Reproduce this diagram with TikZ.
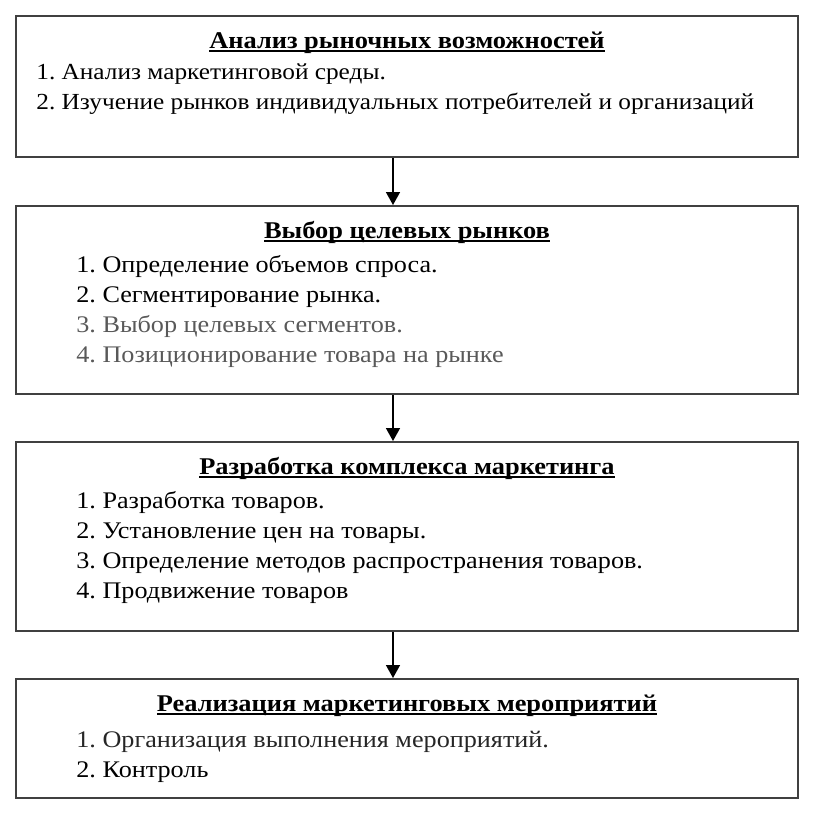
\documentclass[tikz,border=0pt]{standalone}
\usepackage{fontspec}
\setmainfont{Liberation Serif}[FakeStretch=1.1]
\usetikzlibrary{arrows.meta, positioning}
\frenchspacing
\newcommand{\headline}[1]{\setbox0\hbox{#1}\rlap{\rule[-1.9pt]{\wd0}{0.9pt}}\box0}
\tikzset{
    stagebox/.style={rectangle, draw=black!75, line width=1pt, minimum width=391pt, inner sep=0pt},
    headtext/.style={font=\fontsize{12}{15}\selectfont\bfseries, inner sep=0pt, anchor=base},
    listtext/.style={font=\fontsize{#1}{15}\selectfont, align=left, inner sep=0pt, anchor=north west},
    listtext/.default=11.9,
    arrow/.style={-{Triangle[length=6.5pt, width=7pt]}, line width=0.8pt, black},
}

\begin{document}
\begin{tikzpicture}
\useasboundingbox (0,0) rectangle (407pt,-407pt);

% Stage boxes
\node[stagebox, minimum height=70.5pt, anchor=north west] (opportunity) at (7.5pt,-7.5pt) {};
\node[stagebox, minimum height=94pt, below=23.5pt of opportunity] (targets) {};
\node[stagebox, minimum height=94.5pt, below=23pt of targets] (mix) {};
\node[stagebox, minimum height=59.5pt, below=23pt of mix] (implement) {};

% Stage 1 - market opportunities
\node[headtext] (ohead) at ([yshift=-16.5pt]opportunity.north) {\headline{Анализ рыночных возможностей}};
\node[listtext=11.5] (olist) at ([xshift=10.5pt,yshift=-24.4pt]opportunity.north west) {1. Анализ маркетинговой среды.\\2. Изучение рынков индивидуальных потребителей и организаций};

% Stage 2 - target markets
\node[headtext] (thead) at ([yshift=-16.5pt]targets.north) {\headline{Выбор целевых рынков}};
\node[listtext] (tlist) at ([xshift=30.5pt,yshift=-24.8pt]targets.north west) {1. Определение объемов спроса.\\2. Сегментирование рынка.\\{\color{black!65}3. Выбор целевых сегментов.}\\{\color{black!65}4. Позиционирование товара на рынке}};

% Stage 3 - marketing mix
\node[headtext] (mhead) at ([yshift=-16.5pt]mix.north) {\headline{Разработка комплекса маркетинга}};
\node[listtext] (mlist) at ([xshift=30.5pt,yshift=-24.8pt]mix.north west) {1. Разработка товаров.\\2. Установление цен на товары.\\3. Определение методов распространения товаров.\\4. Продвижение товаров};

% Stage 4 - implementation
\node[headtext] (ihead) at ([yshift=-16.5pt]implement.north) {\headline{Реализация маркетинговых мероприятий}};
\node[listtext] (ilist) at ([xshift=30.5pt,yshift=-26.3pt]implement.north west) {{\color{black!85}1. Организация выполнения мероприятий.}\\2. Контроль};

% Arrows
\draw[arrow] ([xshift=-7pt]opportunity.south) -- ([xshift=-7pt]targets.north);
\draw[arrow] ([xshift=-7pt]targets.south) -- ([xshift=-7pt]mix.north);
\draw[arrow] ([xshift=-7pt]mix.south) -- ([xshift=-7pt]implement.north);
\end{tikzpicture}
\end{document}
